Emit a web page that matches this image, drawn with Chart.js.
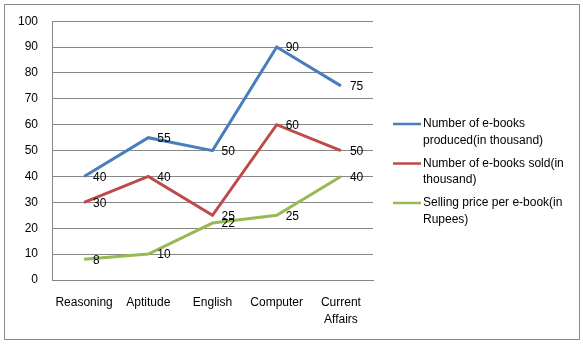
<!DOCTYPE html>
<html>
<head>
<meta charset="utf-8">
<script src="https://cdn.jsdelivr.net/npm/chart.js@4/dist/chart.umd.min.js"></script>
<style>
  html, body { margin: 0; padding: 0; background: #fff; }
  #wrap { width: 583px; height: 344px; position: relative; }
</style>
</head>
<body>
<div id="wrap"><canvas id="chart"></canvas></div>
<script>
// categories and series
const categories = ['Reasoning', 'Aptitude', 'English', 'Computer', ['Current', 'Affairs']];
const produced = [40, 55, 50, 90, 75];
const sold = [30, 40, 25, 60, 50];
const price = [8, 10, 22, 25, 40];

const seriesNames = [
    ['Number of e-books', 'produced(in thousand)'],
    ['Number of e-books sold(in', 'thousand)'],
    ['Selling price per e-book(in', 'Rupees)']
];
const seriesColors = ['#4a7ebb', '#be4b48', '#98b954'];

const FONT = '"Liberation Sans", Arial, sans-serif';
Chart.defaults.font.family = FONT;
Chart.defaults.font.size = 12;
Chart.defaults.color = '#000';

// value labels to the right of each point
const pointLabels = {
    id: 'pointLabels',
    afterDatasetsDraw(chart) {
        const ctx = chart.ctx;
        ctx.save();
        ctx.font = '12px ' + FONT;
        ctx.fillStyle = '#000';
        ctx.textAlign = 'left';
        ctx.textBaseline = 'middle';
        chart.data.datasets.forEach((ds, i) => {
            chart.getDatasetMeta(i).data.forEach((pt, j) => {
                ctx.fillText(String(ds.data[j]), pt.x + 9, pt.y + 1);
            });
        });
        ctx.restore();
    }
};

// frame + wrapped legend on the right
const frameLegend = {
    id: 'frameLegend',
    afterDraw(chart) {
        const ctx = chart.ctx;
        ctx.save();
        ctx.strokeStyle = '#8c8c8c';
        ctx.lineWidth = 1;
        ctx.strokeRect(4.5, 4.5, 575, 335);

        ctx.font = '12px ' + FONT;
        ctx.fillStyle = '#000';
        ctx.textAlign = 'left';
        ctx.textBaseline = 'middle';
        seriesNames.forEach((lines, i) => {
            const y = 124 + i * 39.5;
            ctx.strokeStyle = seriesColors[i];
            ctx.lineWidth = 2.5;
            ctx.beginPath();
            ctx.moveTo(393, y);
            ctx.lineTo(421, y);
            ctx.stroke();
            lines.forEach((t, k) => ctx.fillText(t, 423, y + k * 16.5));
        });
        ctx.restore();
    }
};

const makeSet = (label, data, color) => ({
    label,
    data,
    borderColor: color,
    backgroundColor: color,
    borderWidth: 3,
    pointRadius: 0,
    tension: 0
});

new Chart(document.getElementById('chart'), {
    type: 'line',
    data: {
        labels: categories,
        datasets: [
            makeSet(seriesNames[0].join(' '), produced, seriesColors[0]),
            makeSet(seriesNames[1].join(' '), sold, seriesColors[1]),
            makeSet(seriesNames[2].join(' '), price, seriesColors[2])
        ]
    },
    options: {
        responsive: true,
        maintainAspectRatio: false,
        animation: false,
        layout: { padding: { left: 0, top: 19, right: 210, bottom: 0 } },
        plugins: {
            legend: { display: false },
            tooltip: { enabled: false }
        },
        scales: {
            x: {
                offset: true,
                grid: { display: false, drawTicks: false },
                border: { color: '#868686' },
                ticks: { padding: 15, maxRotation: 0, autoSkip: false, font: { lineHeight: 1.35 } },
                afterFit: s => { s.height = 64; }
            },
            y: {
                min: 0,
                max: 100,
                ticks: { stepSize: 10, padding: 14 },
                grid: { color: '#868686', drawTicks: false },
                border: { color: '#868686' },
                afterFit: s => { s.width = 52; }
            }
        }
    },
    plugins: [pointLabels, frameLegend]
});
</script>
</body>
</html>
